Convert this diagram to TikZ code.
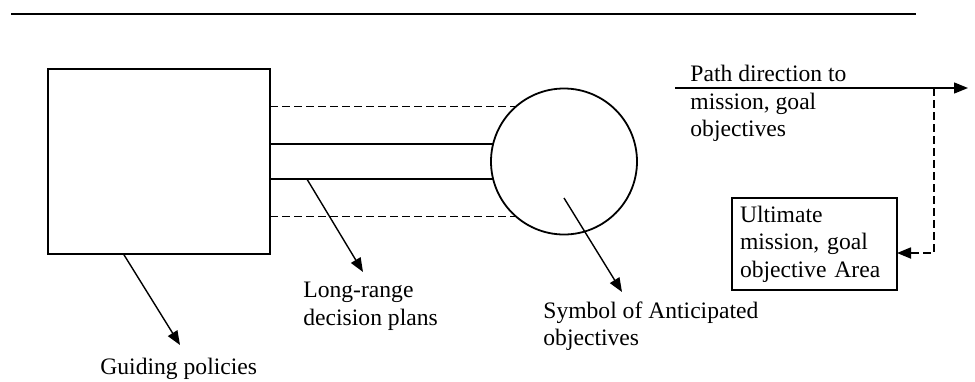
\documentclass[tikz,border=0pt]{standalone}
\usepackage{fontspec}
\setmainfont{Liberation Serif}
\usetikzlibrary{arrows.meta,positioning,calc}

\begin{document}
\begin{tikzpicture}[x=0.5pt,y=-0.5pt,
  font=\fontsize{11.8}{13.8}\selectfont,>={Triangle[length=7pt,width=5.5pt]},
  frame/.style={draw,line width=.9pt,inner sep=0pt,outer sep=0pt},
  lbl/.style={inner sep=0pt,anchor=north west,align=left},
  plan/.style={line width=.9pt},
  alt/.style={line width=.9pt,dash pattern=on 4pt off 2pt},
  pointer/.style={->,line width=.7pt}]
\useasboundingbox (0,0) rectangle (975,381);
\draw[line width=1.3pt] (11,14) -- (916,14);

% policy box and objective circle
\node[frame,minimum width=111pt,minimum height=92.5pt] (policy) at (159,161.5) {};
\node[frame,circle,minimum size=73pt,right=110.5pt of policy] (goal) {};
\draw[alt] (policy.east |- goal.131) -- (goal.131);
\draw[plan] (policy.east |- goal.166) -- (goal.166);
\draw[plan] (policy.east |- goal.194) -- (goal.194);
\draw[alt] (policy.east |- goal.229) -- (goal.229);

% labels
\node[lbl] (guide) at (100,358) {Guiding policies};
\node[lbl] (range) at (303,282) {Long-range\\decision plans};
\node[lbl] (symbol) at (543,301) {Symbol of Anticipated\\objectives};
\node[lbl] (toward) at (690,65) {Path direction to\\mission, goal\\objectives};
\node[frame,minimum width=82.5pt,minimum height=46pt,text width=74.5pt,align=left,inner xsep=4pt] (area) at (814.5,244) {Ultimate\\mission, goal\\objective Area};

% pointers
\coordinate (rangefoot) at ($(policy.east |- goal.194)+(37,0)$);
\draw[pointer] ($(policy.south west)!.34!(policy.south east)$) -- ($(guide.north west)+(80,-13)$);
\draw[pointer] (rangefoot) -- ($(range.north west)+(60,-10)$);
\draw[pointer] ($(goal.center)!.5!(goal.south)$) -- ($(symbol.north west)+(79,-9)$);

% path to the goal area
\coordinate (pathstart) at (675,88);
\coordinate (pathend) at (968,88);
\coordinate (turn) at (934,253);
\draw[pointer] (pathstart) -- (pathend);
\draw[alt,->] (turn |- pathstart) -- (turn) -- (area.east |- turn);
\end{tikzpicture}
\end{document}
